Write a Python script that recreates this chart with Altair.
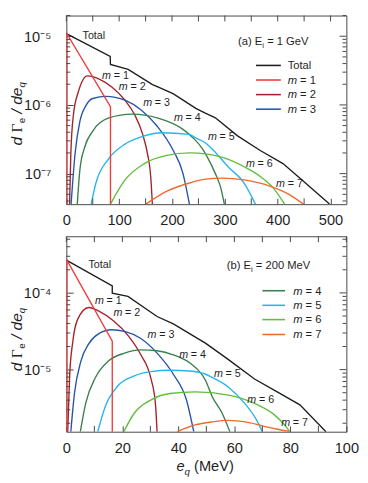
import math
import altair as alt
import pandas as pd

FONT = "Liberation Sans"
SERIF = "Liberation Serif"
INK = "#1f1f1f"
FRAME = "#454545"

NAMES = ["Total", "m = 1", "m = 2", "m = 3", "m = 4", "m = 5", "m = 6", "m = 7"]
COLORS = ["#1e1e1e", "#f03c3c", "#a3232b", "#2456a8", "#3b7f4c", "#27b5ea", "#5fbf3c", "#f2692f"]

# ---------------- panel (a): E_i = 1 GeV ----------------
A_TOTAL_X = [0, 83, 83.5, 117, 163, 172, 202, 245, 263, 282, 324, 367, 410, 446, 498]
A_TOTAL_Y = [1.09e-5, 5.09e-6, 3.88e-6, 3.30e-6, 1.98e-6, 1.85e-6, 1.46e-6, 8.9e-7, 7.6e-7,
             6.5e-7, 3.55e-7, 2.17e-7, 1.40e-7, 8.1e-8, 3.6e-8]
A_M1_X = [1, 1, 83.5, 83.5]
A_M1_Y = [3.0e-8, 1.09e-5, 9.4e-7, 3.0e-8]
A_M2_X = [6.1, 8.5, 13.4, 22.6, 40, 62.2, 86.6, 111, 129.3, 144.5, 153.6, 159.7, 162.8]
A_M2_Y = [3.6e-8, 1.95e-7, 7.2e-7, 1.54e-6, 2.65e-6, 2.38e-6, 1.81e-6, 1.17e-6, 7.2e-7,
          3.73e-7, 1.94e-7, 9.1e-8, 3.6e-8]
A_M3_X = [9, 16.5, 25.6, 37.8, 50, 75, 92.6, 111, 141.5, 172, 202.4, 220.7, 232.9]
A_M3_Y = [3.6e-8, 1.95e-7, 5.75e-7, 1.0e-6, 1.24e-6, 1.33e-6, 1.29e-6, 1.17e-6, 8.45e-7,
          4.9e-7, 2.17e-7, 1.01e-7, 3.6e-8]
A_M4_X = [20.7, 25.6, 34.7, 50, 80.5, 125, 172, 220.7, 240, 257, 264, 282, 292, 299]
A_M4_Y = [3.6e-8, 1.13e-7, 2.42e-7, 4.17e-7, 6.46e-7, 7.33e-7, 6.46e-7, 4.4e-7, 3.31e-7,
          2.34e-7, 1.91e-7, 1.0e-7, 6.3e-8, 3.6e-8]
A_M5_X = [47, 56, 80.5, 111, 147.6, 180, 233, 245, 263, 276, 306, 336.5, 357.8]
A_M5_Y = [3.6e-8, 7.3e-8, 1.66e-7, 2.69e-7, 3.55e-7, 3.94e-7, 3.72e-7, 3.31e-7, 2.82e-7,
          2.29e-7, 1.26e-7, 7.3e-8, 3.6e-8]
A_M6_X = [83.5, 111, 147.6, 190.3, 233, 294, 336.5, 367, 391.5, 413]
A_M6_Y = [3.6e-8, 8.1e-8, 1.40e-7, 1.84e-7, 2.0e-7, 1.74e-7, 1.26e-7, 9.1e-8, 6.2e-8, 3.6e-8]
A_M7_X = [150.6, 190.3, 233, 263.4, 294, 336.5, 385, 421.3, 448.8]
A_M7_Y = [3.6e-8, 5.56e-8, 7.3e-8, 8.3e-8, 8.6e-8, 8.1e-8, 6.6e-8, 5.0e-8, 3.6e-8]

A_LAB_X = [67.5, 99.4, 145.4, 203.6, 268, 339.8, 396.8]
A_LAB_Y = [2.59e-6, 1.81e-6, 1.07e-6, 6.46e-7, 3.42e-7, 1.40e-7, 7.08e-8]
A_TOTAL_LAB = [30.7, 1.0e-5]
A_XDOM = [0, 530]
A_YDOM = [3.59e-8, 2.0e-5]
A_XTICKS = [0, 50, 100, 150, 200, 250, 300, 350, 400, 450, 500]

# ---------------- panel (b): E_i = 200 MeV ----------------
B_TOTAL_X = [0, 16.4, 16.4, 22, 32.4, 38.2, 44, 49.8, 57.9, 67.2, 75.3, 83.4, 92.7]
B_TOTAL_Y = [2.67e-4, 1.23e-4, 9.9e-5, 9.0e-5, 4.92e-5, 3.94e-5, 2.95e-5, 2.2e-5, 1.35e-5,
             7.55e-6, 5.12e-6, 3.47e-6, 1.55e-6]
B_M1_X = [0.2, 0.2, 16.4, 16.4]
B_M1_Y = [1.2e-6, 2.67e-4, 2.35e-5, 1.2e-6]
B_M2_X = [0.5, 1.15, 2.3, 4.07, 8, 11.6, 16.8, 22, 26.6, 30.1, 31.8, 32.4]
B_M2_Y = [1.55e-6, 7.9e-6, 2.31e-5, 4.55e-5, 6.45e-5, 5.8e-5, 4.34e-5, 2.8e-5, 1.56e-5,
          7.9e-6, 3.63e-6, 1.55e-6]
B_M3_X = [1.6, 2.9, 5.2, 8.1, 11.6, 16.2, 20.8, 26.6, 32.4, 38.2, 42.9, 45.5]
B_M3_Y = [1.55e-6, 4.9e-6, 1.29e-5, 2.2e-5, 2.95e-5, 3.31e-5, 3.15e-5, 2.54e-5, 1.64e-5,
          8.7e-6, 4.01e-6, 1.55e-6]
B_M4_X = [5, 6.9, 10.4, 15, 20.8, 26.6, 32.4, 38.2, 44, 49.8, 52.1, 55.6, 58.4]
B_M4_Y = [1.55e-6, 3.63e-6, 7.9e-6, 1.29e-5, 1.64e-5, 1.81e-5, 1.76e-5, 1.56e-5, 1.23e-5,
          7.1e-6, 4.43e-6, 2.72e-6, 1.55e-6]
B_M5_X = [11.2, 13.9, 18.5, 24.3, 30.1, 37, 44, 49.8, 52.1, 57.9, 63.7, 67.8, 70]
B_M5_Y = [1.55e-6, 3.31e-6, 6.2e-6, 8.3e-6, 9.4e-6, 9.8e-6, 9.6e-6, 8.7e-6, 7.9e-6, 5.9e-6,
          3.63e-6, 2.24e-6, 1.55e-6]
B_M6_X = [20.5, 24.3, 30.1, 37, 46, 57.9, 67.2, 74.2, 78.2, 79.8]
B_M6_Y = [1.55e-6, 2.72e-6, 4.01e-6, 4.88e-6, 5.13e-6, 4.65e-6, 3.63e-6, 2.59e-6, 1.85e-6, 1.55e-6]
B_M7_X = [39.5, 46, 52, 58, 64, 70, 75, 79.8]
B_M7_Y = [1.55e-6, 1.9e-6, 2.08e-6, 2.18e-6, 2.08e-6, 1.85e-6, 1.68e-6, 1.55e-6]

B_LAB_X = [10.2, 16.8, 29, 40.3, 52.7, 64.6, 76.7]
B_LAB_Y = [7.92e-5, 5.53e-5, 2.86e-5, 1.56e-5, 8.7e-6, 3.98e-6, 2.03e-6]
B_TOTAL_LAB = [7.9, 2.31e-4]
B_XDOM = [0, 100]
B_YDOM = [1.55e-6, 5.47e-4]
B_XTICKS = [0, 10, 20, 30, 40, 50, 60, 70, 80, 90, 100]

SUP = {-4: "⁻⁴", -5: "⁻⁵", -6: "⁻⁶", -7: "⁻⁷"}
LOG = "(log(datum.value) / LN10)"
YLABEL = ("'10' + (" + " : ".join(f"round({LOG}) == {k} ? '{v}'" for k, v in SUP.items()) + " : '')")
ONE = pd.DataFrame({"k": [0]})

W = {" ": .278, "(": .333, ")": .333, "a": .556, "b": .556, "d": .556, "e": .556, "q": .556,
     "i": .222, "m": .833, "E": .667, "G": .778, "M": .833, "V": .667, "=": .584, "/": .278,
     "Γ": .6, "0": .556, "1": .556, "2": .556, "T": .611, "o": .556, "t": .278, "l": .222}


def tw(s, size):
    return sum(W.get(c, 0.556) for c in s) * size


def piece(txt, size, style, font, x, y, angle=0):
    return alt.Chart(ONE).mark_text(
        text=txt, align="left", baseline="alphabetic", fontSize=size, fontStyle=style,
        font=font, color=INK, angle=angle,
    ).encode(x=alt.value(x), y=alt.value(y))


def rich_h(parts, x0, y0):
    out, x = [], x0
    for txt, size, style, font, shift in parts:
        lead = len(txt) - len(txt.lstrip(" "))
        out.append(piece(txt.strip(), size, style, font, x + tw(" " * lead, size), y0 + shift))
        x += tw(txt, size)
    return out


def rich_v(parts, x0, y0):
    out, y = [], y0
    for txt, size, style, font, shift in parts:
        lead = len(txt) - len(txt.lstrip(" "))
        out.append(piece(txt.strip(), size, style, font, x0 + shift, y - tw(" " * lead, size), angle=270))
        y -= tw(txt, size)
    return out


def log_ticks(dom):
    vals = []
    for e in range(-9, -2):
        for m in range(1, 10):
            v = float(f"{m}e{e}")
            if dom[0] <= v <= dom[1] * 1.0001:
                vals.append(v)
    return vals


def panel(xs_list, ys_list, xdom, ydom, height, xticks, xstep,
          lab_x, lab_y, total_lab, legend_idx, legend_geom, ptitle, ptitle_xy, ytitle_y0,
          extra=()):
    rows = []
    for name, xs, ys in zip(NAMES, xs_list, ys_list):
        for i, (xv, yv) in enumerate(zip(xs, ys)):
            rows.append({"series": name, "x": xv, "y": yv, "i": i})
    df = pd.DataFrame(rows)

    xsc = alt.Scale(domain=xdom, nice=False, zero=False)
    ysc = alt.Scale(type="log", domain=ydom, nice=False)
    col = alt.Color("series:N", scale=alt.Scale(domain=NAMES, range=COLORS), legend=None)
    common = dict(domain=False, grid=False, tickColor=FRAME, tickWidth=1, title=None)
    yticks = log_ticks(ydom)
    ymaj = [v for v in yticks if abs(v - 10 ** round(math.log10(v))) < 1e-12]
    ymin = [v for v in yticks if v not in ymaj]
    xlab = [v for v in xticks if v % xstep == 0]
    xmin = [v for v in xticks if v % xstep != 0]

    xb = alt.Axis(orient="bottom", values=xlab, tickSize={"expr": "-6"}, labelPadding=15,
                  labelFont=FONT, labelFontSize=15, labelColor=INK, labelFlush=False,
                  labelOverlap=False, **common)
    yl = alt.Axis(orient="left", values=ymaj, tickSize={"expr": "-7"}, labelPadding=23,
                  labelExpr=YLABEL, labelFont=FONT, labelFontSize=15, labelColor=INK,
                  labelBaseline="middle", labelFlush=False, labelOverlap=False, **common)

    lines_smooth = alt.Chart(df[df.series.isin(NAMES[2:])]).mark_line(
        clip=True, strokeWidth=1.4, interpolate="monotone"
    ).encode(x=alt.X("x:Q", scale=xsc, axis=None), y=alt.Y("y:Q", scale=ysc, axis=None),
             color=col, order="i:Q")
    lines_sharp = alt.Chart(df[df.series.isin(NAMES[:2])]).mark_line(
        clip=True, strokeWidth=1.4
    ).encode(x=alt.X("x:Q", scale=xsc, axis=xb), y=alt.Y("y:Q", scale=ysc, axis=yl),
             color=col, order="i:Q")

    # remaining inward ticks: minor x ticks at the bottom, all x ticks at the top,
    # minor y ticks on the left, all y ticks on the right
    def xrule(vals, y1, y2):
        return alt.Chart(pd.DataFrame({"tx": vals})).mark_rule(color=FRAME, strokeWidth=1).encode(
            x=alt.X("tx:Q", scale=xsc, axis=None), y=alt.value(y1), y2=alt.value(y2))

    def yrule(vals, x1, x2):
        return alt.Chart(pd.DataFrame({"ty": vals})).mark_rule(color=FRAME, strokeWidth=1).encode(
            y=alt.Y("ty:Q", scale=ysc, axis=None), x=alt.value(x1), x2=alt.value(x2))

    tick_layers = [xrule(xticks, 0, 6), xrule(xmin, height, height - 6),
                   yrule(ymin, 0, 4), yrule(ymaj, 288, 281), yrule(ymin, 288, 284)]

    def xy():
        return dict(x=alt.X("x:Q", scale=xsc, axis=None), y=alt.Y("y:Q", scale=ysc, axis=None))

    labdf = pd.DataFrame({"x": lab_x, "y": lab_y, "t": [f"= {n}" for n in range(1, 8)]})
    m_txt = alt.Chart(labdf).mark_text(text="m", align="left", baseline="middle", font=FONT,
                                       fontSize=11, fontStyle="italic", color=INK).encode(**xy())
    eq_txt = alt.Chart(labdf).mark_text(align="left", baseline="middle", font=FONT, fontSize=11,
                                        color=INK, dx=12).encode(text="t:N", **xy())
    tot_txt = alt.Chart(pd.DataFrame({"x": [total_lab[0]], "y": [total_lab[1]]})).mark_text(
        text="Total", align="left", baseline="middle", font=FONT, fontSize=11, color=INK
    ).encode(**xy())

    leg = []
    lx1, lx2, ltx, lrows = legend_geom
    for k, idx in enumerate(legend_idx):
        yy = lrows[k]
        leg.append(alt.Chart(ONE).mark_rule(color=COLORS[idx], strokeWidth=1.6).encode(
            x=alt.value(lx1), x2=alt.value(lx2), y=alt.value(yy)))
        name = NAMES[idx]
        if name == "Total":
            leg += rich_h([("Total", 11.5, "normal", FONT, 0)], ltx, yy + 4)
        else:
            leg += rich_h([("m", 11.5, "italic", FONT, 0), (" " + name[2:], 11.5, "normal", FONT, 0)],
                          ltx, yy + 4)

    ttl = rich_h(ptitle, ptitle_xy[0], ptitle_xy[1])
    ytl = rich_v([("d", 16, "italic", FONT, 0), (" Γ", 16, "normal", SERIF, 0),
                  ("e", 10, "normal", FONT, 3.5), (" / de", 16, "italic", FONT, 0),
                  ("q", 10, "italic", FONT, 3.5)], -46, ytitle_y0)

    layers = ([lines_smooth, lines_sharp] + tick_layers + [tot_txt, m_txt, eq_txt]
              + leg + ttl + ytl + list(extra))
    return alt.layer(*layers).resolve_axis(x="independent", y="independent").properties(
        width=288, height=height)


top = panel(
    [A_TOTAL_X, A_M1_X, A_M2_X, A_M3_X, A_M4_X, A_M5_X, A_M6_X, A_M7_X],
    [A_TOTAL_Y, A_M1_Y, A_M2_Y, A_M3_Y, A_M4_Y, A_M5_Y, A_M6_Y, A_M7_Y],
    A_XDOM, A_YDOM, 194, A_XTICKS, 100, A_LAB_X, A_LAB_Y, A_TOTAL_LAB,
    [0, 1, 2, 3], (195, 220.6, 227.6, [51.3, 66.3, 81.3, 96.3]),
    [("(a) E", 11.5, "normal", FONT, 0), ("i", 8, "normal", FONT, 3),
     (" = 1 GeV", 11.5, "normal", FONT, 0)], (176.6, 30.3), 133.7,
)

xtitle = rich_h([("e", 15, "italic", FONT, 0), ("q", 10, "italic", FONT, 4),
                 (" (MeV)", 15, "normal", FONT, 0)], 113.3, 241)

bottom = panel(
    [B_TOTAL_X, B_M1_X, B_M2_X, B_M3_X, B_M4_X, B_M5_X, B_M6_X, B_M7_X],
    [B_TOTAL_Y, B_M1_Y, B_M2_Y, B_M3_Y, B_M4_Y, B_M5_Y, B_M6_Y, B_M7_Y],
    B_XDOM, B_YDOM, 201, B_XTICKS, 20, B_LAB_X, B_LAB_Y, B_TOTAL_LAB,
    [4, 5, 6, 7], (201.6, 225, 233.3, [56, 71, 85.7, 101]),
    [("(b) E", 11.5, "normal", FONT, 0), ("i", 8, "normal", FONT, 3),
     (" = 200 MeV", 11.5, "normal", FONT, 0)], (165, 33.3), 138.7,
    extra=xtitle,
)

chart = alt.vconcat(top, bottom, spacing=7).properties(padding=0).configure_view(
    stroke=FRAME, strokeWidth=1
)

chart.save("out.html", embed_options={"renderer": "svg", "actions": False})
